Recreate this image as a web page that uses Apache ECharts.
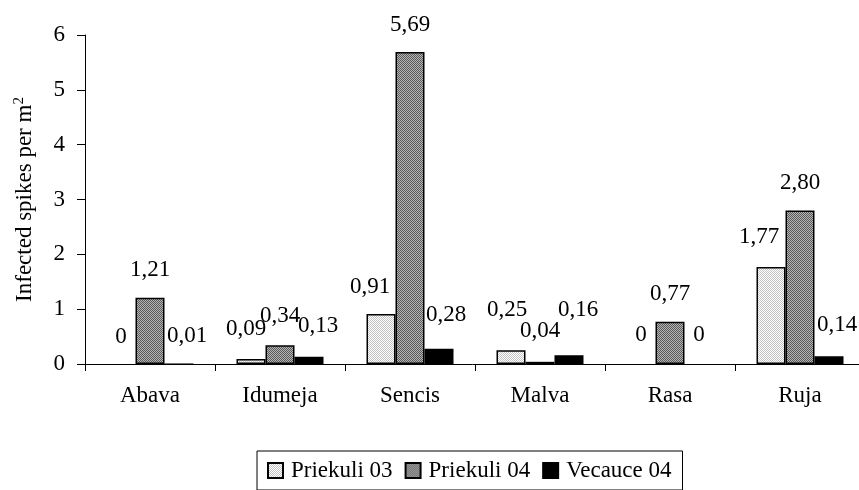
<!DOCTYPE html>
<html>
<head>
<meta charset="utf-8">
<script src="https://cdn.jsdelivr.net/npm/echarts@6/dist/echarts.min.js"></script>
<style>html,body{margin:0;padding:0;background:#fff;}#c{width:859px;height:490px;}</style>
</head>
<body>
<div id="c"></div>
<script>
var categories = ['Abava', 'Idumeja', 'Sencis', 'Malva', 'Rasa', 'Ruja'];
var priekuli03 = [0, 0.09, 0.91, 0.25, 0, 1.77];
var priekuli04 = [1.21, 0.34, 5.69, 0.04, 0.77, 2.80];
var vecauce04 = [0.01, 0.13, 0.28, 0.16, 0, 0.14];
var seriesNames = ['Priekuli 03', 'Priekuli 04', 'Vecauce 04'];
var yTicks = [0, 1, 2, 3, 4, 5, 6];

// label nudges (layout only), [dx, dy] per category
var nudge03 = [[0,0],[-5,-3],[-11,0],[-4,-13],[0,-2],[-12,-2]];
var nudge04 = [[0,0],[0,-2],[0,0],[0,-3],[0,0],[0,0]];
var nudge05 = [[8,0],[9,-3],[7,-6],[9,-18],[0,-2],[8,-4]];

var FONT = 'Liberation Serif, Times New Roman, serif';

function pattern(a, b) {
  var cv = document.createElement('canvas');
  cv.width = 2; cv.height = 2;
  var g = cv.getContext('2d');
  g.fillStyle = a; g.fillRect(0, 0, 2, 2);
  g.fillStyle = b; g.fillRect(0, 0, 1, 1); g.fillRect(1, 1, 1, 1);
  return { image: cv, repeat: 'repeat' };
}

function fmt(v) { return v.toFixed(2).replace('.', ','); }

function mk(values, nudges) {
  return values.map(function (v, i) {
    var item = { value: v, label: { offset: nudges[i] } };
    if (v < 0.02) item.itemStyle = { borderWidth: 0, color: v === 0 ? 'rgba(0,0,0,0)' : '#000' };
    return item;
  });
}

var fills = [pattern('#ffffff', '#c4c4c4'), pattern('#b4b4b4', '#5a5a5a'), '#000000'];
var datas = [mk(priekuli03, nudge03), mk(priekuli04, nudge04), mk(vecauce04, nudge05)];

var chart = echarts.init(document.getElementById('c'), null, { renderer: 'canvas' });
chart.setOption({
  animation: false,
  backgroundColor: '#ffffff',
  textStyle: { fontFamily: FONT, color: '#000' },
  grid: { left: 85, top: 35, width: 780, height: 329, containLabel: false, outerBoundsMode: 'none' },
  legend: {
    left: 257, top: 451,
    padding: [8, 11, 8, 10],
    itemGap: 12,
    itemWidth: 15, itemHeight: 15,
    icon: 'rect',
    borderColor: '#000', borderWidth: 1,
    backgroundColor: '#fff',
    textStyle: { fontFamily: FONT, fontSize: 23, color: '#000', padding: [0, 0, 0, 3] },
    data: seriesNames
  },
  xAxis: {
    type: 'category',
    data: categories,
    axisLine: { lineStyle: { color: '#000', width: 1 } },
    axisTick: { show: true, length: 7, lineStyle: { color: '#000' }, alignWithLabel: false },
    axisLabel: { fontFamily: FONT, fontSize: 23, color: '#000', margin: 20 },
    splitLine: { show: false }
  },
  yAxis: {
    type: 'value',
    min: yTicks[0], max: yTicks[yTicks.length - 1], interval: 1,
    name: '{a|Infected spikes per m}{s|2}',
    nameLocation: 'middle', nameRotate: 90, nameGap: 47,
    nameTextStyle: {
      rich: {
        a: { fontFamily: FONT, fontSize: 23, color: '#000', lineHeight: 26 },
        s: { fontFamily: FONT, fontSize: 15, color: '#000', verticalAlign: 'top', lineHeight: 26 }
      }
    },
    axisLine: { show: true, lineStyle: { color: '#000', width: 1 } },
    axisTick: { show: true, length: 8, lineStyle: { color: '#000' } },
    axisLabel: { fontFamily: FONT, fontSize: 23, color: '#000', margin: 20 },
    splitLine: { show: false }
  },
  series: seriesNames.map(function (n, k) {
    return {
      name: n,
      type: 'bar',
      data: datas[k],
      barWidth: 29,
      barGap: '0%',
      itemStyle: { color: fills[k], borderColor: '#000', borderWidth: 1.5 },
      label: {
        show: true, position: 'top', distance: 16,
        fontFamily: FONT, fontSize: 23, color: '#000',
        formatter: function (p) { return p.value === 0 ? '0' : fmt(p.value); }
      }
    };
  })
});
</script>
</body>
</html>
